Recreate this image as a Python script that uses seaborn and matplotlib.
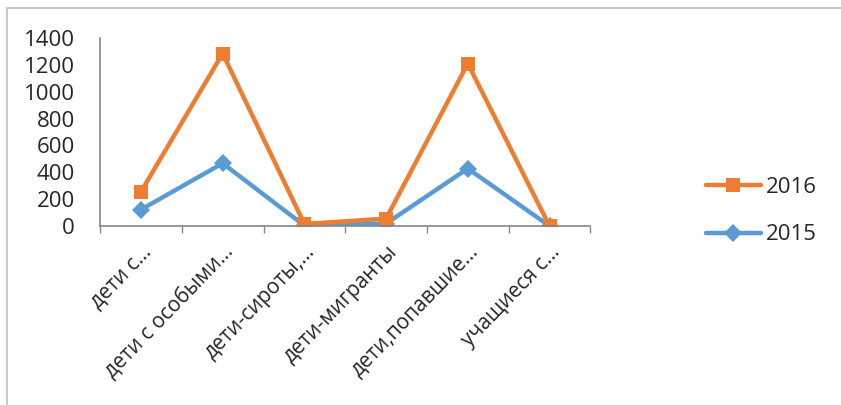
import pandas as pd
import matplotlib
matplotlib.use("Agg")
import matplotlib.pyplot as plt
import matplotlib.transforms as mtransforms
from matplotlib.lines import Line2D
from matplotlib.ticker import FixedLocator
import seaborn as sns

# Chart data
categories = ['дети с...', 'дети с особыми...', 'дети-сироты,...',
              'дети-мигранты', 'дети,попавшие...', 'учащиеся с...']
values_2016 = [255, 1285, 15, 55, 1210, 0]
values_2015 = [122, 467, 3, 18, 428, 0]
years = ['2016', '2015']

colors = {'2016': '#ED7D31', '2015': '#5B9BD5'}
markers = {'2016': 's', '2015': 'D'}
msizes = {'2016': 10, '2015': 9}

sns.set_theme(style="white")
plt.rcParams['font.family'] = ['Open Sans', 'DejaVu Sans']

df = pd.DataFrame({
    'category': categories * 2,
    'value': values_2016 + values_2015,
    'year': ['2016'] * len(categories) + ['2015'] * len(categories),
})

fig = plt.figure(figsize=(8.41, 4.05), dpi=100)
ax = fig.add_axes([0.119, 0.442, 0.583, 0.464])

# draw 2015 first so the 2016 series sits on top
for yr in ['2015', '2016']:
    sub = df[df['year'] == yr]
    sns.lineplot(data=sub, x='category', y='value', ax=ax, sort=False,
                 color=colors[yr], marker=markers[yr], markersize=msizes[yr],
                 markeredgewidth=0, linewidth=3.2, legend=False)

ax.set_xlim(-0.5, len(categories) - 0.5)
ax.set_ylim(0, 1400)
ax.set_yticks(range(0, 1401, 200))
ax.set_xticks(range(len(categories)))
ax.set_xticklabels(categories, rotation=46, ha='right', rotation_mode='anchor',
                   fontsize=15)
offset = mtransforms.ScaledTranslation(15 / 100, 0, fig.dpi_scale_trans)
for lbl in ax.get_xticklabels():
    lbl.set_transform(lbl.get_transform() + offset)
ax.tick_params(axis='y', labelsize=16, length=5, color='#868686', width=1, pad=13)
ax.tick_params(axis='x', which='major', length=0, pad=11)
ax.xaxis.set_minor_locator(FixedLocator([i - 0.5 for i in range(len(categories) + 1)]))
ax.tick_params(axis='x', which='minor', length=5, color='#868686', width=1,
               bottom=True)
ax.set_xlabel('')
ax.set_ylabel('')

for s in ['top', 'right']:
    ax.spines[s].set_visible(False)
for s in ['left', 'bottom']:
    ax.spines[s].set_color('#868686')
    ax.spines[s].set_linewidth(1.2)

# legend: 2016 then 2015
handles = [Line2D([], [], color=colors[yr], marker=markers[yr],
                  markersize=msizes[yr], markeredgewidth=0, linewidth=3.2)
           for yr in years]
fig.legend(handles, years, loc='center left', bbox_to_anchor=(0.839, 0.479),
           frameon=False, fontsize=16, handlelength=2.5, labelspacing=1.2,
           handletextpad=0.2, borderaxespad=0, borderpad=0)

# outer frame (top and left edges visible)
fig.add_artist(Line2D([0.0083, 1.0], [0.980, 0.980], transform=fig.transFigure,
                      color='#BFBFBF', linewidth=1.2))
fig.add_artist(Line2D([0.0083, 0.0083], [0.0, 0.980], transform=fig.transFigure,
                      color='#BFBFBF', linewidth=1.2))

fig.savefig('out.png', dpi=100)
